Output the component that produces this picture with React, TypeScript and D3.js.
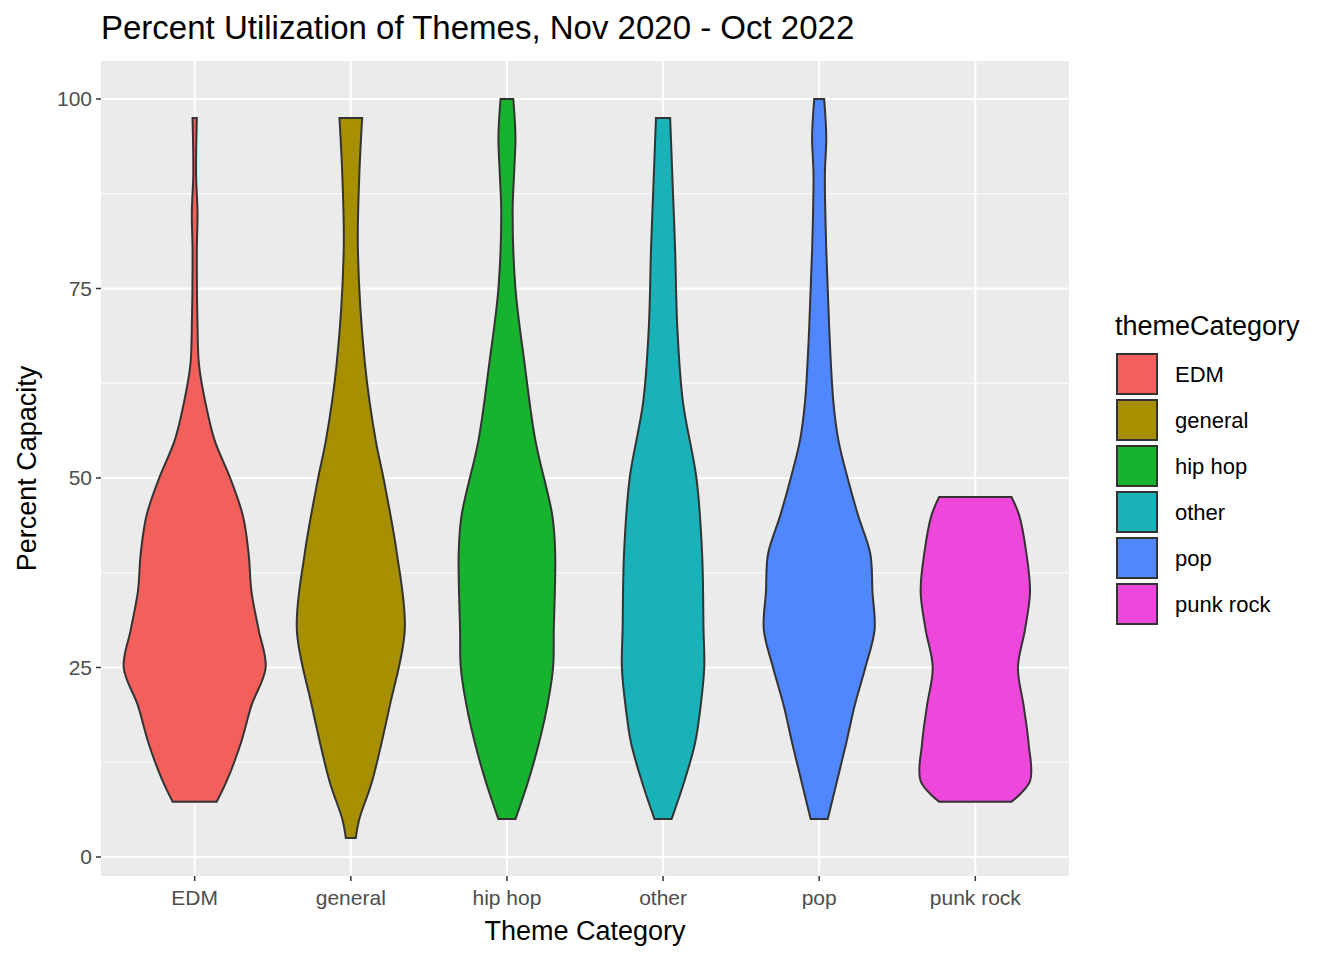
import React from "react";
import * as d3 from "d3";

const categories = ["EDM", "general", "hip hop", "other", "pop", "punk rock"];
const colors = ["#F3605C", "#A68F00", "#17B22E", "#19B2B8", "#5087FF", "#EF47DB"];
const yTicks = [0, 25, 50, 75, 100];

// [percent, relative half-width]
const edm: [number, number][] = [[7.3,0.31],[10,0.45],[15,0.65],[20,0.8],[25,1.0],[30,0.9],[35,0.8],[40,0.76],[45,0.68],[50,0.5],[55,0.28],[60,0.15],[65,0.06],[70,0.04],[80,0.03],[85,0.04],[90,0.02],[97.5,0.03]];
const general: [number, number][] = [[2.5,0.07],[5,0.12],[10,0.3],[20,0.55],[30,0.76],[40,0.65],[50,0.46],[55,0.35],[65,0.2],[80,0.1],[90,0.12],[97.5,0.16]];
const hiphop: [number, number][] = [[5,0.12],[10,0.3],[15,0.45],[20,0.57],[25,0.65],[30,0.66],[40,0.68],[45,0.64],[55,0.4],[65,0.25],[75,0.12],[85,0.08],[90,0.1],[95,0.12],[100,0.09]];
const other: [number, number][] = [[5,0.12],[10,0.3],[15,0.45],[20,0.53],[25,0.58],[30,0.57],[40,0.55],[50,0.47],[60,0.28],[70,0.2],[80,0.17],[90,0.13],[97.5,0.1]];
const pop: [number, number][] = [[5,0.12],[10,0.25],[15,0.38],[20,0.5],[25,0.65],[30,0.78],[35,0.75],[40,0.72],[45,0.55],[50,0.4],[55,0.27],[60,0.2],[70,0.14],[80,0.1],[90,0.08],[95,0.1],[100,0.07]];
const punk: [number, number][] = [[7.3,0.51],[10,0.77],[15,0.75],[20,0.68],[25,0.6],[30,0.7],[35,0.77],[40,0.72],[45,0.62],[47.5,0.51]];
const violins = [edm, general, hiphop, other, pop, punk];

export default function App() {
  const left = 101, right = 1069, top = 61, bottom = 876;
  const x = d3.scaleBand().domain(categories).range([left, right]).paddingInner(0).paddingOuter(0.1);
  const y = d3.scaleLinear().domain([0, 100]).range([857, 99]);
  const w = d3.scaleLinear().domain([0, 1]).range([0, 71]);
  const font = "Liberation Sans, Arial, sans-serif";
  const minor = [12.5, 37.5, 62.5, 87.5];
  return (
    <svg width={1344} height={960} style={{ position: "absolute", left: 0, top: 0 }} fontFamily={font}>
      <rect width={1344} height={960} fill="#fff" />
      <rect x={left} y={top} width={right - left} height={bottom - top} fill="#EBEBEB" />
      {minor.map((t) => <line key={t} x1={left} x2={right} y1={y(t)} y2={y(t)} stroke="#fff" strokeWidth={1} />)}
      {yTicks.map((t) => <line key={t} x1={left} x2={right} y1={y(t)} y2={y(t)} stroke="#fff" strokeWidth={2} />)}
      {categories.map((c) => { const cx = x(c)! + x.bandwidth() / 2; return <line key={c} x1={cx} x2={cx} y1={top} y2={bottom} stroke="#fff" strokeWidth={2} />; })}
      {violins.map((v, i) => {
        const cx = x(categories[i])! + x.bandwidth() / 2;
        const area = d3.area<[number, number]>().y((d) => y(d[0])).x0((d) => cx - w(d[1])).x1((d) => cx + w(d[1])).curve(d3.curveCatmullRom);
        return <path key={i} d={area(v)!} fill={colors[i]} stroke="#333" strokeWidth={2} />;
      })}
      {yTicks.map((t) => (
        <g key={t}>
          <line x1={left - 5} x2={left} y1={y(t)} y2={y(t)} stroke="#333" strokeWidth={1.5} />
          <text x={left - 9} y={y(t)} dy="0.35em" textAnchor="end" fontSize={21} fill="#4D4D4D">{t}</text>
        </g>
      ))}
      {categories.map((c) => { const cx = x(c)! + x.bandwidth() / 2; return (
        <g key={c}>
          <line x1={cx} x2={cx} y1={bottom} y2={bottom + 5} stroke="#333" strokeWidth={1.5} />
          <text x={cx} y={bottom + 29} textAnchor="middle" fontSize={21} fill="#4D4D4D">{c}</text>
        </g>); })}
      <text x={585} y={940} textAnchor="middle" fontSize={27} fill="#000">Theme Category</text>
      <text transform={`translate(36,${(top + bottom) / 2}) rotate(-90)`} textAnchor="middle" fontSize={27} fill="#000">Percent Capacity</text>
      <text x={101} y={39} fontSize={33} fill="#000">Percent Utilization of Themes, Nov 2020 - Oct 2022</text>
      <text x={1115} y={335} fontSize={27} fill="#000">themeCategory</text>
      {categories.map((c, i) => (
        <g key={c} transform={`translate(1115,${352 + i * 46})`}>
          <rect x={1} y={1} width={42} height={42} fill="#EBEBEB" />
          <rect x={2} y={2} width={40} height={40} fill={colors[i]} stroke="#333" strokeWidth={2} />
          <text x={60} y={22} dy="0.35em" fontSize={22} fill="#000">{c}</text>
        </g>
      ))}
    </svg>
  );
}
